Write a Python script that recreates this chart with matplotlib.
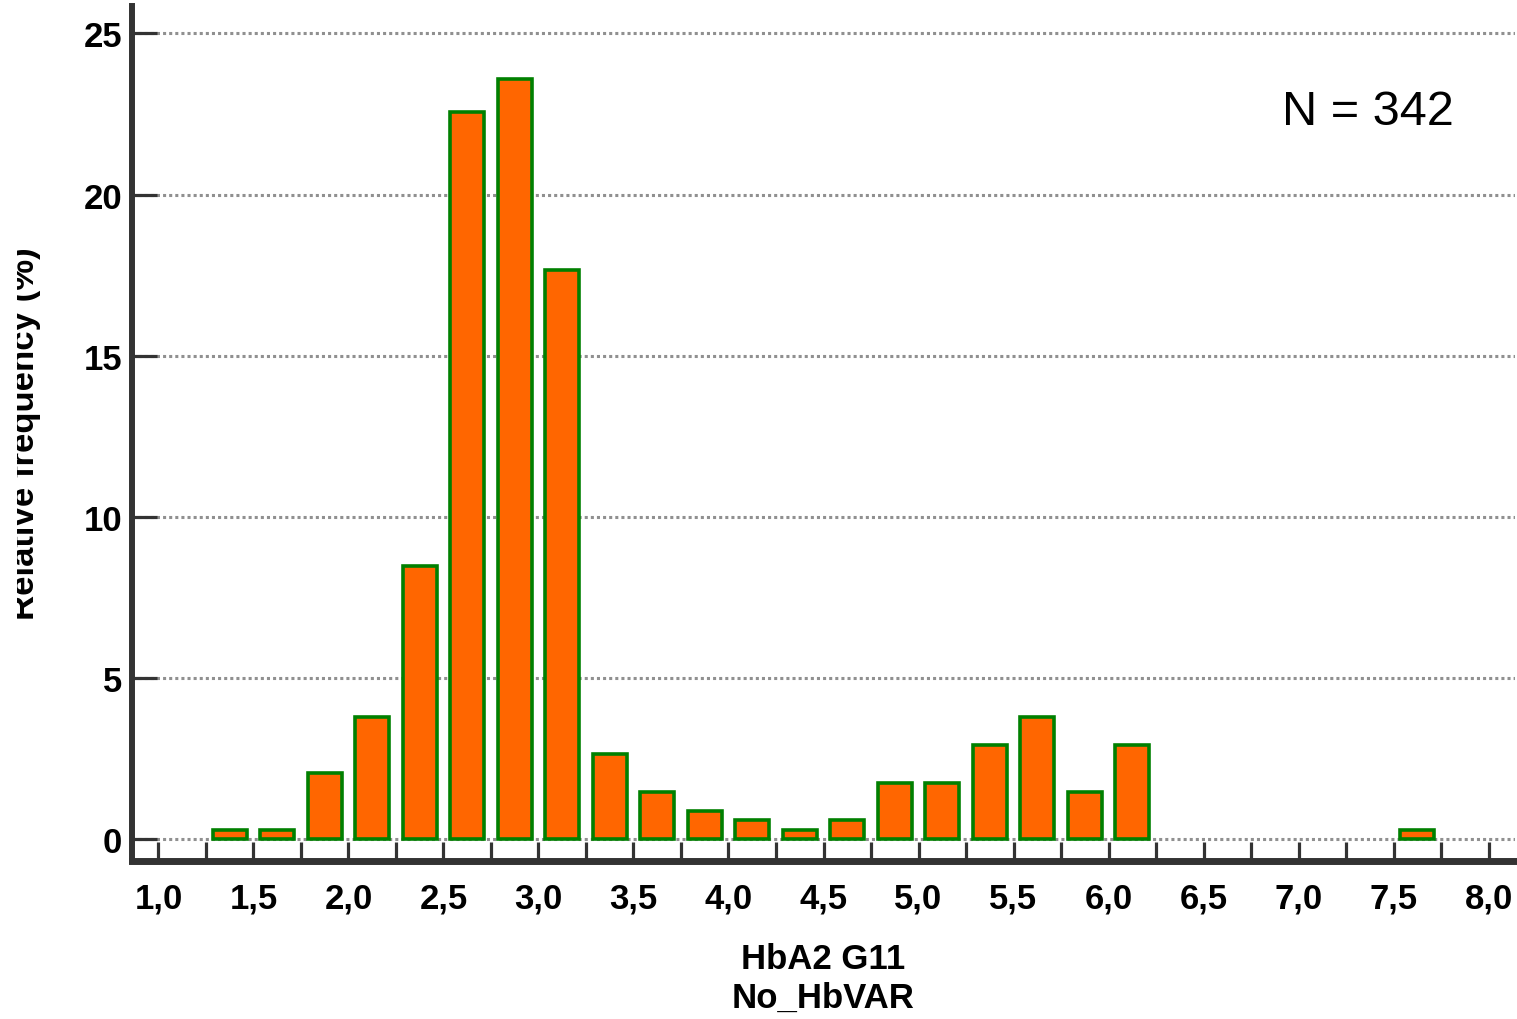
import matplotlib
matplotlib.use("Agg")
import matplotlib.pyplot as plt
import numpy as np
from matplotlib.transforms import Bbox, TransformedBbox

# histogram of HbA2 (bin width 0.25), relative frequency in %
bin_centers = [1.375, 1.625, 1.875, 2.125, 2.375, 2.625, 2.875, 3.125, 3.375,
               3.625, 3.875, 4.125, 4.375, 4.625, 4.875, 5.125, 5.375, 5.625,
               5.875, 6.125, 6.375, 6.625, 6.875, 7.125, 7.375, 7.625]
rel_freq = [0.29, 0.29, 2.05, 3.80, 8.48, 22.55, 23.6, 17.65, 2.63,
            1.46, 0.88, 0.58, 0.29, 0.58, 1.75, 1.75, 2.92, 3.80,
            1.46, 2.92, 0, 0, 0, 0, 0, 0.29]
n_total = 342

x_ticks = np.arange(1.0, 8.01, 0.25)
y_ticks = [0, 5, 10, 15, 20, 25]

fig = plt.figure(figsize=(15.17, 10.20), dpi=100)
ax = fig.add_axes([132 / 1517, 1 - 861.7 / 1020, (1515 - 132) / 1517, (861.7 - 7) / 1020])

xc = np.array(bin_centers)
yv = np.array(rel_freq)
mask = yv > 0
ax.bar(xc[mask], yv[mask], width=0.18, color="#ff6600", edgecolor="#008000",
       linewidth=2.6, zorder=3)

ax.set_xlim(0.861, 8.139)
ax.set_ylim(-0.673, 25.85)

ax.set_yticks(y_ticks)
ax.set_xticks(x_ticks)
ax.set_xticklabels([f"{v:.1f}".replace(".", ",") if abs(v * 2 - round(v * 2)) < 1e-6 else ""
                    for v in x_ticks])

ax.yaxis.grid(True, color="#909090", linewidth=2.2, linestyle=(0, (1, 1)), zorder=1)
ax.set_axisbelow(True)

for s in ["top", "right"]:
    ax.spines[s].set_visible(False)
ax.spines["left"].set_linewidth(4.3)
ax.spines["bottom"].set_linewidth(5.0)
ax.spines["left"].set_color("#333333")
ax.spines["bottom"].set_color("#333333")

tick_font = dict(family="Liberation Sans", weight="bold", size=25)
ax.tick_params(axis="y", direction="in", length=18, width=2.3, color="#333333", pad=7)
ax.tick_params(axis="x", direction="in", length=14, width=2.3, color="#333333", pad=15)
for lab in ax.get_xticklabels() + ax.get_yticklabels():
    lab.set_fontproperties(tick_font)

ax.set_xlabel("HbA2 G11\nNo_HbVAR", fontdict=tick_font, linespacing=1.2, labelpad=20)

ylab = fig.text(25 / 1517, 1 - 434 / 1020, "Relative frequency (%)", rotation=90,
                ha="center", va="center", family="Liberation Sans", weight="bold", size=25)
ylab.set_clip_box(TransformedBbox(Bbox([[17 / 1517, 0], [1, 1]]), fig.transFigure))
ylab.set_clip_on(True)

fig.text(1282 / 1517, 1 - 125 / 1020, f"N = {n_total}", ha="left", va="baseline",
         family="Liberation Sans", size=35)

fig.savefig("out.png", dpi=100)
